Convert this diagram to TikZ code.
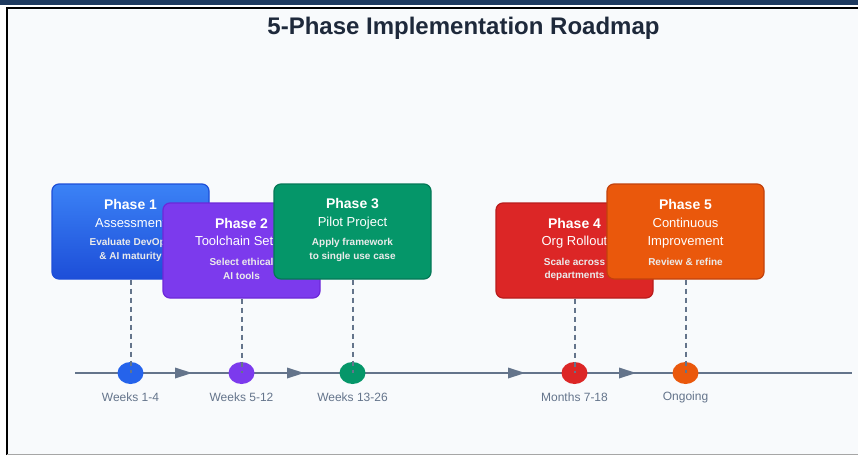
\documentclass[tikz,border=0pt]{standalone}
\usepackage{fontspec}
\setmainfont{Liberation Sans}
\usetikzlibrary{shapes.geometric}
\definecolor{navy}{HTML}{1E3A5F}
\definecolor{panel}{HTML}{F8FAFC}
\definecolor{slate}{HTML}{64748B}
\definecolor{titlec}{HTML}{1E293B}
\definecolor{bluetop}{HTML}{3B82F6}
\definecolor{bluebot}{HTML}{1D4ED8}
\definecolor{blueb}{HTML}{1D4ED8}
\definecolor{bluec}{HTML}{2563EB}
\definecolor{purp}{HTML}{7C3AED}
\definecolor{purpb}{HTML}{6D28D9}
\definecolor{grn}{HTML}{059669}
\definecolor{grnb}{HTML}{047857}
\definecolor{rd}{HTML}{DC2626}
\definecolor{rdb}{HTML}{B91C1C}
\definecolor{org}{HTML}{EA580C}
\definecolor{orgb}{HTML}{C2410C}
\begin{document}
\begin{tikzpicture}[x=1pt,y=-1pt,
  phasebox/.style={rectangle, rounded corners=7pt, minimum width=157pt, minimum height=95pt, inner sep=0pt, line width=1.2pt},
  ptitle/.style={text=white, font=\bfseries\fontsize{14}{16}\selectfont, inner sep=0pt},
  pname/.style={text=white, font=\fontsize{13}{15}\selectfont, inner sep=0pt},
  pdesc/.style={text=white!92!black, font=\bfseries\fontsize{10}{12}\selectfont, inner sep=0pt},
  dot/.style={ellipse, minimum width=26pt, minimum height=22pt, inner sep=0pt, draw=none},
  dashline/.style={draw=slate, line width=2pt, dash pattern=on 5pt off 4pt},
  tl/.style={draw=slate, line width=2.6pt},
  tip/.style={fill=slate},
  when/.style={text=slate, font=\fontsize{12}{14}\selectfont, inner sep=0pt}
]
\useasboundingbox (0,0) rectangle (858,455);
% frame
\fill[white] (0,0) rectangle (858,455);
\fill[navy] (0,0) rectangle (858,4.5);
\fill[panel] (7,7.5) rectangle (858,455);
\draw[black, line width=2pt] (7,455) -- (7,7.5) -- (858,7.5);
\draw[gray!70, line width=1pt] (7,454.5) -- (858,454.5);
% title
\node[text=titlec, font=\bfseries\fontsize{24}{28}\selectfont, inner sep=0pt] (title) at (463.5,28) {5-Phase Implementation Roadmap};

% timeline
\coordinate (tlstart) at (75,373);
\coordinate (tlend) at (852,373);
\draw[tl] (tlstart) -- (tlend);
\fill[tip] (175,367.5) -- (192,373) -- (175,378.5) -- cycle;
\fill[tip] (287,367.5) -- (304,373) -- (287,378.5) -- cycle;
\fill[tip] (508,367.5) -- (525,373) -- (508,378.5) -- cycle;
\fill[tip] (619,367.5) -- (636,373) -- (619,378.5) -- cycle;

% dots
\node[dot, fill=bluec] (c1) at (130.5,373) {};
\node[dot, fill=purp] (c2) at (241.5,373) {};
\node[dot, fill=grn] (c3) at (352.5,373) {};
\node[dot, fill=rd] (c4) at (574.5,373) {};
\node[dot, fill=org] (c5) at (685.5,373) {};

% labels
\node[when] (w1) at (130.5,397) {Weeks 1-4};
\node[when] (w2) at (241.5,397) {Weeks 5-12};
\node[when] (w3) at (352.5,397) {Weeks 13-26};
\node[when] (w4) at (574.5,397) {Months 7-18};
\node[when] (w5) at (685.5,397) {Ongoing};

% Phase 1
\node[phasebox, top color=bluetop, bottom color=bluebot, draw=blueb] (b1) at (130.5,231.5) {};
\node[ptitle] (p1a) at (130.5,204) {Phase 1};
\node[pname] (p1b) at (130.5,223) {Assessment};
\node[pdesc] (p1c) at (130.5,242.5) {Evaluate DevOps};
\node[pdesc] (p1d) at (130.5,256.5) {\& AI maturity};
% Phase 2
\node[phasebox, fill=purp, draw=purpb] (b2) at (241.5,250.5) {};
\node[ptitle] (p2a) at (241.5,223) {Phase 2};
\node[pname] (p2b) at (241.5,242) {Toolchain Setup};
\node[pdesc] (p2c) at (241.5,261.5) {Select ethical};
\node[pdesc] (p2d) at (241.5,275.5) {AI tools};
% Phase 3
\node[phasebox, fill=grn, draw=grnb] (b3) at (352.5,231.5) {};
\node[ptitle] (p3a) at (352.5,204) {Phase 3};
\node[pname] (p3b) at (352.5,223) {Pilot Project};
\node[pdesc] (p3c) at (352.5,242.5) {Apply framework};
\node[pdesc] (p3d) at (352.5,256.5) {to single use case};
% Phase 4
\node[phasebox, fill=rd, draw=rdb] (b4) at (574.5,250.5) {};
\node[ptitle] (p4a) at (574.5,223) {Phase 4};
\node[pname] (p4b) at (574.5,242) {Org Rollout};
\node[pdesc] (p4c) at (574.5,261.5) {Scale across};
\node[pdesc] (p4d) at (574.5,275.5) {departments};
% Phase 5
\node[phasebox, fill=org, draw=orgb] (b5) at (685.5,231.5) {};
\node[ptitle] (p5a) at (685.5,204) {Phase 5};
\node[pname] (p5b) at (685.5,223) {Continuous};
\node[pname] (p5c) at (685.5,242) {Improvement};
\node[pdesc] (p5d) at (685.5,261.5) {Review \& refine};

% connectors
\draw[dashline] (b1.south) -- (c1.center);
\draw[dashline] (b2.south) -- (c2.center);
\draw[dashline] (b3.south) -- (c3.center);
\draw[dashline] (b4.south) -- (c4.center);
\draw[dashline] (b5.south) -- (c5.center);
\end{tikzpicture}
\end{document}
